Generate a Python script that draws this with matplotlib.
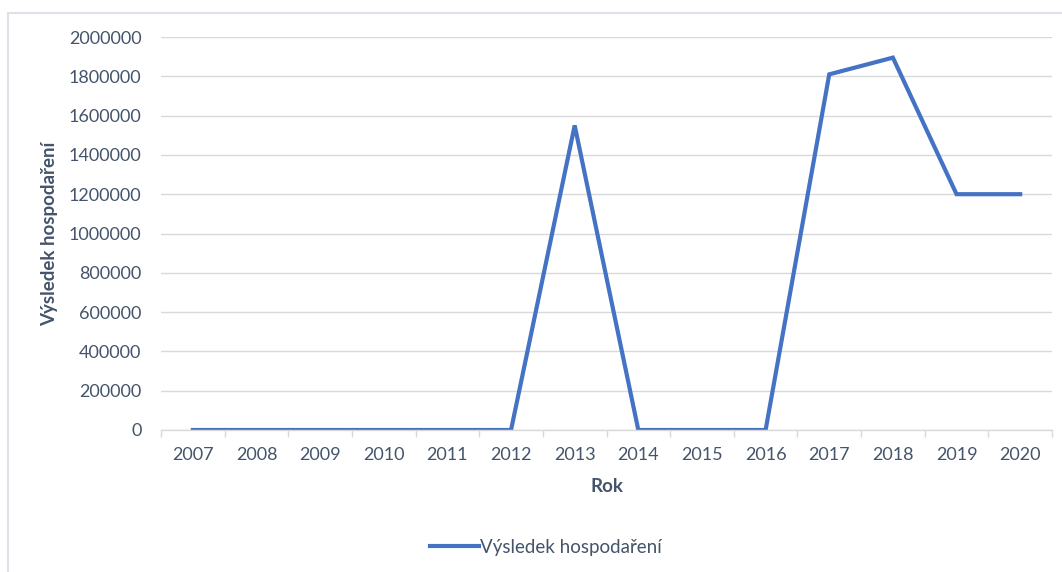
import numpy as np
import matplotlib
matplotlib.use('Agg')
import matplotlib.pyplot as plt
from matplotlib.patches import Rectangle

# data
years = ['2007', '2008', '2009', '2010', '2011', '2012', '2013',
         '2014', '2015', '2016', '2017', '2018', '2019', '2020']
vysledek = [0, 0, 0, 0, 0, 0, 1550000, 0, 0, 0, 1810000, 1895000, 1200000, 1200000]
y_ticks = [0, 200000, 400000, 600000, 800000, 1000000, 1200000, 1400000,
           1600000, 1800000, 2000000]
series_name = 'Výsledek hospodaření'
x_title = 'Rok'
y_title = 'Výsledek hospodaření'

plt.rcParams['font.family'] = ['Lato', 'DejaVu Sans']
txt_col = '#44546A'
grid_col = '#D9D9D9'
line_col = '#4472C4'

W, H = 1062, 572
fig = plt.figure(figsize=(W / 100, H / 100), dpi=100)

# outer chart frame (cut at right and bottom like the screenshot)
fig.patches.append(Rectangle((8 / W, -0.1), 1.2, 1 - 13 / H + 0.1,
                             transform=fig.transFigure, fill=False,
                             edgecolor='#DDE2E8', linewidth=1.5))

left, right, top, bottom = 161, 1052, 37, 430
ax = fig.add_axes([left / W, 1 - bottom / H, (right - left) / W, (bottom - top) / H])

x = np.arange(len(years))
ax.plot(x, vysledek, color=line_col, linewidth=3.0, solid_joinstyle='miter',
        label=series_name)

ax.set_xlim(-0.5, len(years) - 0.5)
ax.set_ylim(0, 2000000)
ax.set_yticks(y_ticks)
ax.set_yticklabels([str(v) for v in y_ticks])
ax.set_xticks(x)
ax.set_xticklabels(years)
ax.set_xticks(np.arange(-0.5, len(years)), minor=True)

ax.grid(axis='y', color=grid_col, linewidth=1.0)
ax.set_axisbelow(True)
for s in ['top', 'right', 'left']:
    ax.spines[s].set_visible(False)
ax.spines['bottom'].set_color(grid_col)
ax.spines['bottom'].set_linewidth(1.0)

ax.tick_params(axis='y', length=0, pad=14, labelsize=13, labelcolor=txt_col)
ax.tick_params(axis='x', which='major', length=0, pad=12, labelsize=13, labelcolor=txt_col)
ax.tick_params(axis='x', which='minor', length=5, color=grid_col, width=1.0)

ax.set_xlabel(x_title, fontsize=13.5, fontweight='bold', color=txt_col, labelpad=11)
ax.set_ylabel(y_title, fontsize=13.5, fontweight='bold', color=txt_col, labelpad=8)

leg = fig.legend(loc='center', bbox_to_anchor=(546 / W, 1 - 547 / H), frameon=False,
                 fontsize=13.5, handlelength=2.6, handletextpad=0.1)
for t in leg.get_texts():
    t.set_color(txt_col)

fig.savefig('out.png', dpi=100)
